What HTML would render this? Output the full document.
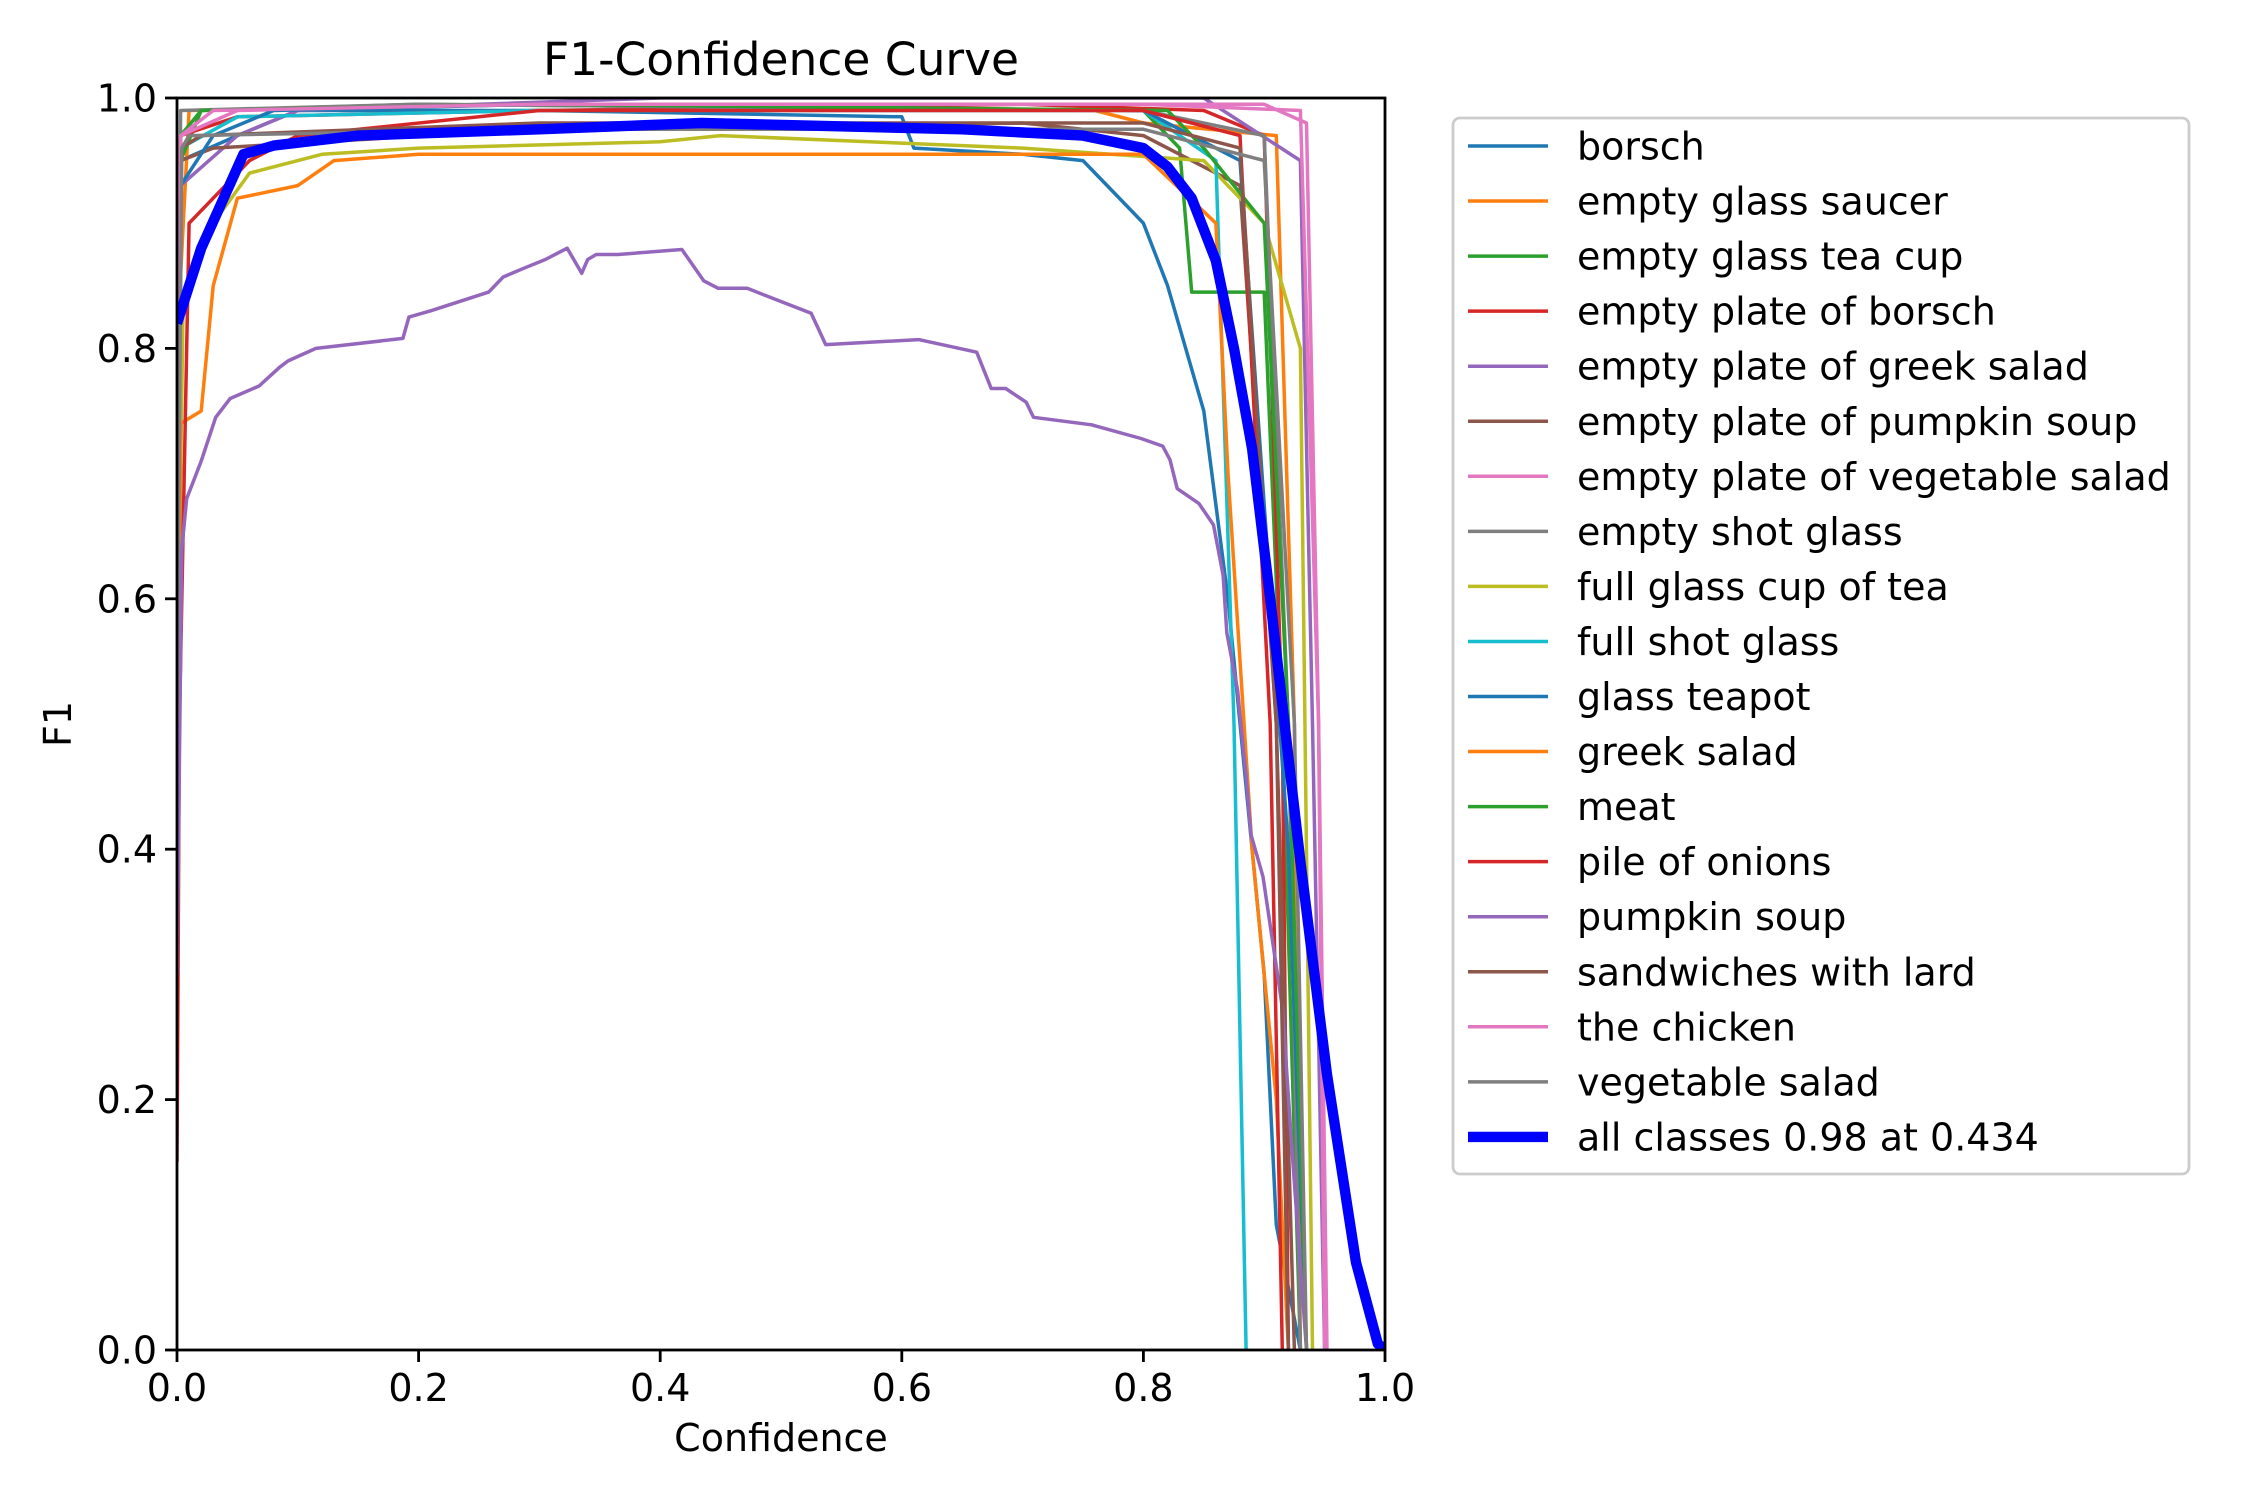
<!DOCTYPE html>
<html><head><meta charset="utf-8"><style>
html,body{margin:0;padding:0;background:#fff;}
svg{display:block;font-family:"DejaVu Sans","Liberation Sans",sans-serif;}
</style></head><body>
<svg id="chart" width="2250" height="1500" viewBox="0 0 2250 1500" xmlns="http://www.w3.org/2000/svg">
<rect width="2250" height="1500" fill="#fff"/>
<text x="781" y="75" font-size="45.5" text-anchor="middle">F1-Confidence Curve</text>
<text x="781" y="1451" font-size="38" text-anchor="middle">Confidence</text>
<text transform="translate(71,724) rotate(-90)" font-size="38" text-anchor="middle">F1</text>
<g id="plot"></g>
<g id="axes"></g>
<g id="legend"></g>
</svg>
<script>
const xTicks=[0,0.2,0.4,0.6,0.8,1.0];
const yTicks=[0,0.2,0.4,0.6,0.8,1.0];
const tickLabels=["0.0","0.2","0.4","0.6","0.8","1.0"];
const classNames=["borsch","empty glass saucer","empty glass tea cup","empty plate of borsch","empty plate of greek salad","empty plate of pumpkin soup","empty plate of vegetable salad","empty shot glass","full glass cup of tea","full shot glass","glass teapot","greek salad","meat","pile of onions","pumpkin soup","sandwiches with lard","the chicken","vegetable salad","all classes 0.98 at 0.434"];
const colors=["#1f77b4","#ff7f0e","#2ca02c","#d62728","#9467bd","#8c564b","#e377c2","#7f7f7f","#bcbd22","#17becf","#1f77b4","#ff7f0e","#2ca02c","#d62728","#9467bd","#8c564b","#e377c2","#7f7f7f","#0000ff"];
const borschX=[0,0.003,0.05,0.1,0.3,0.6,0.61,0.7,0.75,0.77,0.8,0.82,0.85,0.87,0.89,0.9,0.91,0.93];
const borschY=[0.3,0.95,0.97,0.99,0.99,0.985,0.96,0.955,0.95,0.93,0.9,0.85,0.75,0.6,0.4,0.3,0.1,0];
const glassSaucerX=[0,0.002,0.01,0.3,0.76,0.8,0.91,0.925,0.93];
const glassSaucerY=[0.5,0.84,0.99,0.995,0.99,0.98,0.97,0.5,0];
const teaCupX=[0,0.003,0.02,0.2,0.8,0.83,0.84,0.9,0.915,0.93];
const teaCupY=[0.5,0.95,0.99,0.995,0.99,0.96,0.845,0.845,0.5,0];
const plateBorschX=[0,0.003,0.05,0.3,0.7,0.85,0.9,0.915,0.92];
const plateBorschY=[0.5,0.97,0.985,0.99,0.995,0.99,0.97,0.5,0];
const plateGreekX=[0,0.003,0.05,0.1,0.4,0.85,0.93,0.94,0.95];
const plateGreekY=[0.5,0.93,0.97,0.99,1.0,1.0,0.95,0.5,0];
const platePumpkinX=[0,0.003,0.03,0.3,0.7,0.8,0.88,0.91,0.925];
const platePumpkinY=[0.5,0.95,0.96,0.975,0.98,0.97,0.93,0.5,0];
const plateVegX=[0,0.003,0.05,0.3,0.8,0.93,0.945,0.95];
const plateVegY=[0.5,0.97,0.99,0.995,0.995,0.99,0.5,0];
const shotGlassX=[0,0.003,0.2,0.8,0.9,0.92,0.93];
const shotGlassY=[0.5,0.99,0.995,0.99,0.97,0.5,0];
const fullTeaX=[0,0.005,0.03,0.06,0.12,0.2,0.4,0.45,0.7,0.85,0.9,0.93,0.94];
const fullTeaY=[0.5,0.83,0.9,0.94,0.955,0.96,0.965,0.97,0.96,0.95,0.9,0.8,0];
const fullShotX=[0,0.003,0.05,0.3,0.8,0.86,0.875,0.885];
const fullShotY=[0.5,0.96,0.985,0.99,0.99,0.95,0.5,0];
const teapotX=[0,0.003,0.03,0.08,0.3,0.8,0.88,0.92,0.935];
const teapotY=[0.5,0.93,0.97,0.99,0.995,0.99,0.95,0.4,0];
const greekSaladX=[0,0.003,0.02,0.03,0.05,0.1,0.13,0.2,0.8,0.86,0.87,0.89,0.91,0.92];
const greekSaladY=[0.3,0.74,0.75,0.85,0.92,0.93,0.95,0.955,0.955,0.9,0.7,0.4,0.2,0];
const meatX=[0,0.003,0.02,0.3,0.82,0.85,0.9,0.92,0.935];
const meatY=[0.5,0.97,0.99,0.995,0.99,0.96,0.9,0.5,0];
const onionsX=[0,0.002,0.01,0.03,0.06,0.1,0.3,0.8,0.88,0.905,0.915];
const onionsY=[0.15,0.5,0.9,0.92,0.95,0.97,0.99,0.99,0.97,0.5,0];
const pumpkinX=[0,0.004,0.008,0.02,0.032,0.044,0.068,0.085,0.092,0.115,0.187,0.192,0.21,0.258,0.27,0.287,0.305,0.323,0.335,0.34,0.347,0.365,0.418,0.436,0.448,0.472,0.525,0.537,0.614,0.662,0.674,0.686,0.703,0.709,0.757,0.798,0.816,0.822,0.828,0.846,0.858,0.866,0.869,0.878,0.885,0.889,0.899,0.915,0.923,0.935];
const pumpkinY=[0.3,0.64,0.68,0.71,0.745,0.76,0.77,0.785,0.79,0.8,0.808,0.825,0.83,0.845,0.857,0.864,0.871,0.88,0.86,0.871,0.875,0.875,0.879,0.854,0.848,0.848,0.828,0.803,0.807,0.797,0.768,0.768,0.757,0.745,0.739,0.728,0.722,0.711,0.688,0.676,0.659,0.619,0.573,0.527,0.458,0.412,0.378,0.274,0.16,0];
const sandwichX=[0,0.003,0.02,0.3,0.8,0.88,0.91,0.92];
const sandwichY=[0.5,0.96,0.97,0.98,0.98,0.96,0.5,0];
const chickenX=[0,0.003,0.03,0.3,0.9,0.935,0.945,0.952];
const chickenY=[0.5,0.97,0.99,0.995,0.995,0.98,0.5,0];
const vegSaladX=[0,0.004,0.01,0.3,0.8,0.9,0.925,0.935];
const vegSaladY=[0.5,0.96,0.97,0.975,0.975,0.95,0.5,0];
const allX=[0,0.02,0.055,0.08,0.15,0.3,0.434,0.65,0.75,0.8,0.82,0.84,0.86,0.875,0.89,0.905,0.93,0.952,0.976,0.994,1.0];
const allY=[0.82,0.88,0.955,0.962,0.97,0.975,0.98,0.975,0.97,0.96,0.945,0.92,0.87,0.8,0.72,0.6,0.39,0.22,0.07,0.005,0];
const seriesX=[borschX,glassSaucerX,teaCupX,plateBorschX,plateGreekX,platePumpkinX,plateVegX,shotGlassX,fullTeaX,fullShotX,teapotX,greekSaladX,meatX,onionsX,pumpkinX,sandwichX,chickenX,vegSaladX,allX];
const seriesY=[borschY,glassSaucerY,teaCupY,plateBorschY,plateGreekY,platePumpkinY,plateVegY,shotGlassY,fullTeaY,fullShotY,teapotY,greekSaladY,meatY,onionsY,pumpkinY,sandwichY,chickenY,vegSaladY,allY];

const NS="http://www.w3.org/2000/svg";
const L=177,R=1385,T=98,B=1350;
function sx(v){return L+v*(R-L);}
function sy(v){return B-v*(B-T);}
function mk(tag,attrs,parent){const e=document.createElementNS(NS,tag);for(const k in attrs)e.setAttribute(k,attrs[k]);parent.appendChild(e);return e;}
const plot=document.getElementById('plot'),axes=document.getElementById('axes'),leg=document.getElementById('legend');
const cp=mk('clipPath',{id:'clip'},plot);mk('rect',{x:L,y:T,width:R-L,height:B-T},cp);
const g=mk('g',{'clip-path':'url(#clip)'},plot);
for(let i=0;i<seriesX.length;i++){
  const xs=seriesX[i],ys=seriesY[i];
  const d=xs.map((x,j)=>(j?'L':'M')+sx(x).toFixed(1)+' '+sy(ys[j]).toFixed(1)).join(' ');
  const p=mk('path',{d:d,fill:'none',stroke:colors[i],'stroke-width':i===18?10.4:3.5,'stroke-linejoin':'round'},g);
  
  
}
const frame=mk('rect',{x:L,y:T,width:R-L,height:B-T,fill:'none',stroke:'#000','stroke-width':2.8},axes);


xTicks.forEach((v,i)=>{
  mk('line',{x1:sx(v),x2:sx(v),y1:B,y2:B+12,stroke:'#000','stroke-width':2.8},axes);
  const t=mk('text',{x:sx(v),y:B+51,'font-size':38,'text-anchor':'middle'},axes);t.textContent=tickLabels[i];
  
  
});
yTicks.forEach((v,i)=>{
  mk('line',{x1:L-12,x2:L,y1:sy(v),y2:sy(v),stroke:'#000','stroke-width':2.8},axes);
  const t=mk('text',{x:L-20,y:sy(v)+13.5,'font-size':38,'text-anchor':'end'},axes);t.textContent=tickLabels[i];
  
  
});
const box=mk('rect',{x:1453,y:118,width:736,height:1056,rx:7,fill:'#fff','fill-opacity':0.8,stroke:'#cccccc','stroke-width':2.8},leg);


classNames.forEach((n,i)=>{
  const y=146+i*55.05;
  const ge=mk('g',{},leg);
  
  
  mk('line',{x1:1468,x2:1548,y1:y,y2:y,stroke:colors[i],'stroke-width':i===18?10.4:3.5},ge);
  const t=mk('text',{x:1577,y:y+13.5,'font-size':38},ge);t.textContent=n;
});
</script>
</body></html>
